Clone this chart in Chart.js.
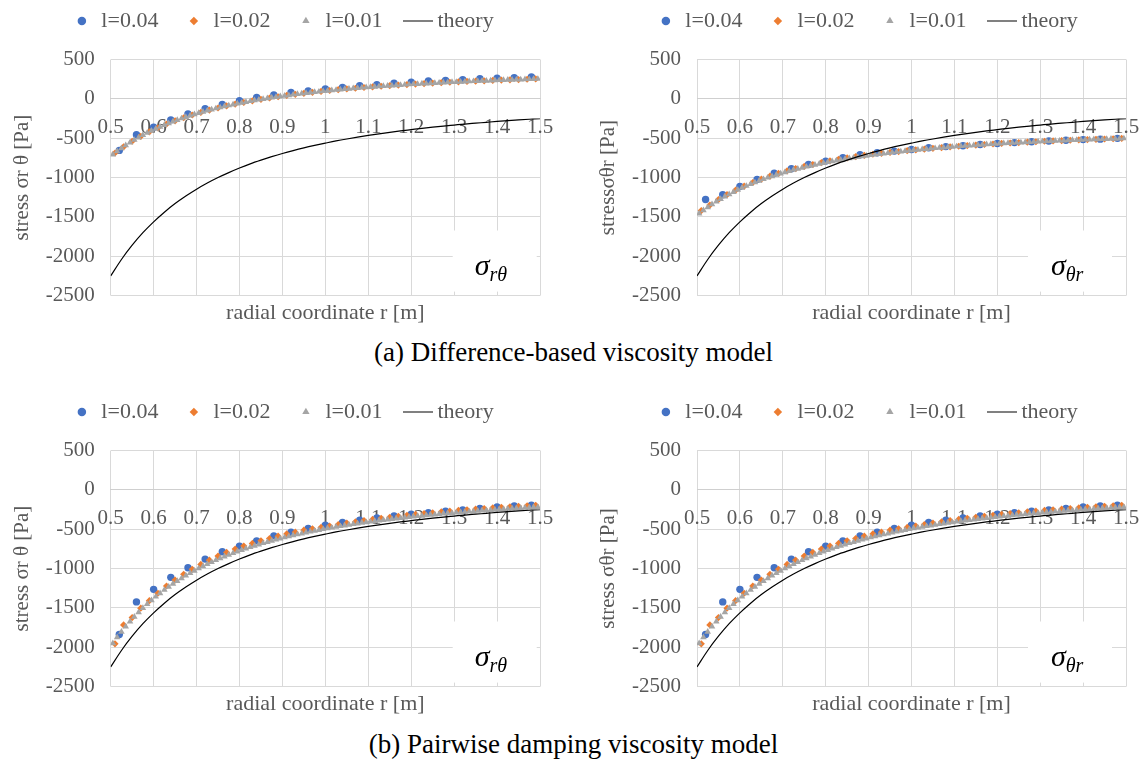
<!DOCTYPE html>
<html>
<head>
<meta charset="utf-8">
<script src="https://cdn.jsdelivr.net/npm/chart.js@4.4.1/dist/chart.umd.min.js"></script>
<style>
  body { margin: 0; width: 1147px; height: 760px; overflow: hidden; background: #fff; position: relative; }
  canvas { position: absolute; }
  .cap { position: absolute; left: 0; width: 1147px; text-align: center; font-family: "Liberation Serif", "DejaVu Serif", "Noto Serif", Tinos, Times, serif; font-size: 27px; line-height: 30px; color: #000; }
</style>
</head>
<body>
<canvas id="c1" width="571" height="345" style="left:-2px;top:-17px"></canvas>
<canvas id="c2" width="557" height="345" style="left:589px;top:-17px"></canvas>
<div class="cap" style="top:337px">(a) Difference-based viscosity model</div>
<canvas id="c3" width="571" height="345" style="left:-2px;top:374px"></canvas>
<canvas id="c4" width="557" height="345" style="left:589px;top:374px"></canvas>
<div class="cap" style="top:729px">(b) Pairwise damping viscosity model</div>

<script>
// radial positions of the samples
const r04 = [0.52, 0.56, 0.60, 0.64, 0.68, 0.72, 0.76, 0.80, 0.84, 0.88, 0.92, 0.96, 1.00,
  1.04, 1.08, 1.12, 1.16, 1.20, 1.24, 1.28, 1.32, 1.36, 1.40, 1.44, 1.48];
const r02 = [0.51, 0.53, 0.55, 0.57, 0.59, 0.61, 0.63, 0.65, 0.67, 0.69,
  0.71, 0.73, 0.75, 0.77, 0.79, 0.81, 0.83, 0.85, 0.87, 0.89,
  0.91, 0.93, 0.95, 0.97, 0.99, 1.01, 1.03, 1.05, 1.07, 1.09,
  1.11, 1.13, 1.15, 1.17, 1.19, 1.21, 1.23, 1.25, 1.27, 1.29,
  1.31, 1.33, 1.35, 1.37, 1.39, 1.41, 1.43, 1.45, 1.47, 1.49];
const r01 = [0.505, 0.515, 0.525, 0.535, 0.545, 0.555, 0.565, 0.575, 0.585, 0.595,
  0.605, 0.615, 0.625, 0.635, 0.645, 0.655, 0.665, 0.675, 0.685, 0.695,
  0.705, 0.715, 0.725, 0.735, 0.745, 0.755, 0.765, 0.775, 0.785, 0.795,
  0.805, 0.815, 0.825, 0.835, 0.845, 0.855, 0.865, 0.875, 0.885, 0.895,
  0.905, 0.915, 0.925, 0.935, 0.945, 0.955, 0.965, 0.975, 0.985, 0.995,
  1.005, 1.015, 1.025, 1.035, 1.045, 1.055, 1.065, 1.075, 1.085, 1.095,
  1.105, 1.115, 1.125, 1.135, 1.145, 1.155, 1.165, 1.175, 1.185, 1.195,
  1.205, 1.215, 1.225, 1.235, 1.245, 1.255, 1.265, 1.275, 1.285, 1.295,
  1.305, 1.315, 1.325, 1.335, 1.345, 1.355, 1.365, 1.375, 1.385, 1.395,
  1.405, 1.415, 1.425, 1.435, 1.445, 1.455, 1.465, 1.475, 1.485, 1.495];
const rTheory = [0.5, 0.525, 0.55, 0.575, 0.6, 0.625, 0.65, 0.675, 0.7, 0.725, 0.75,
  0.775, 0.8, 0.825, 0.85, 0.875, 0.9, 0.925, 0.95, 0.975, 1.0,
  1.025, 1.05, 1.075, 1.1, 1.125, 1.15, 1.175, 1.2, 1.225, 1.25,
  1.275, 1.3, 1.325, 1.35, 1.375, 1.4, 1.425, 1.45, 1.475, 1.5];

// theory curve (same in all four panels)
const theory = [-2250, -2041, -1860, -1701, -1563, -1440, -1331, -1235, -1148, -1070, -1000,
  -937, -879, -826, -779, -735, -694, -657, -623, -592, -563,
  -535, -510, -487, -465, -444, -425, -407, -391, -375, -360,
  -346, -333, -320, -309, -298, -287, -277, -268, -259, -250];

// (a) difference-based, sigma r theta
const diffRT04 = [-655, -455, -360, -267, -191, -124, -70, -23, 17, 48, 80, 101, 125,
  146, 168, 181, 199, 212, 226, 235, 243, 257, 261, 270, 279];
const diffRT02 = [-688, -610, -539, -476, -419, -368, -321, -279, -240, -205,
  -173, -143, -116, -90, -67, -45, -25, -6, 11, 27,
  43, 57, 70, 83, 94, 106, 116, 126, 135, 144,
  152, 160, 168, 175, 182, 188, 194, 200, 206, 211,
  216, 221, 225, 229, 234, 238, 242, 245, 249, 253];
const diffRT01 = [-709, -667, -628, -591, -556, -522, -491, -461, -432, -406,
  -380, -355, -332, -310, -289, -269, -249, -231, -213, -196,
  -180, -165, -150, -136, -122, -109, -96, -84, -73, -61,
  -50, -40, -30, -20, -11, -2, 7, 15, 23, 31,
  39, 46, 53, 60, 67, 73, 80, 86, 91, 97,
  103, 108, 113, 118, 123, 128, 133, 137, 142, 146,
  150, 154, 158, 162, 166, 169, 173, 176, 180, 183,
  186, 189, 193, 195, 198, 201, 204, 207, 209, 212,
  214, 217, 219, 222, 224, 226, 228, 230, 233, 235,
  237, 239, 241, 242, 244, 246, 248, 250, 252, 253];

// (a) difference-based, sigma theta r
const diffTR04 = [-1278, -1219, -1113, -1024, -944, -888, -833, -791, -748, -710, -684, -664, -643,
  -622, -607, -595, -580, -567, -556, -546, -535, -526, -518, -512, -502];
const diffTR02 = [-1420, -1350, -1280, -1217, -1161, -1109, -1063, -1021, -983, -948,
  -916, -886, -859, -834, -811, -789, -769, -751, -734, -717,
  -704, -692, -681, -670, -659, -649, -639, -629, -620, -610,
  -602, -594, -587, -580, -574, -567, -561, -555, -550, -545,
  -539, -535, -530, -526, -521, -517, -514, -510, -507, -503];
const diffTR01 = [-1458, -1417, -1378, -1341, -1306, -1273, -1242, -1212, -1184, -1157,
  -1131, -1107, -1084, -1062, -1041, -1021, -1002, -984, -966, -949,
  -933, -918, -903, -889, -876, -862, -850, -838, -826, -815,
  -804, -794, -784, -774, -765, -756, -748, -739, -731, -723,
  -716, -708, -701, -695, -688, -681, -675, -669, -664, -658,
  -652, -647, -642, -637, -632, -627, -623, -618, -613, -609,
  -605, -601, -597, -593, -590, -586, -583, -579, -576, -573,
  -569, -566, -563, -560, -557, -555, -552, -549, -547, -544,
  -541, -539, -537, -534, -532, -530, -528, -525, -523, -521,
  -519, -517, -515, -514, -512, -510, -508, -507, -505, -503];

// (b) pairwise damping (both components read the same)
const pair04 = [-1838, -1424, -1264, -1112, -990, -880, -787, -715, -648, -585, -538, -491, -450,
  -415, -386, -357, -332, -310, -289, -272, -256, -236, -218, -206, -194];
const pair02 = [-1956, -1716, -1623, -1504, -1408, -1314, -1222, -1146, -1074, -1010,
  -947, -893, -842, -795, -753, -715, -681, -648, -618, -589,
  -560, -538, -513, -494, -478, -460, -441, -424, -407, -391,
  -376, -362, -349, -336, -324, -312, -301, -291, -281, -271,
  -262, -254, -245, -237, -230, -222, -216, -209, -202, -196];
const pair01 = [-1950, -1874, -1804, -1737, -1674, -1614, -1557, -1503, -1452, -1404,
  -1358, -1314, -1272, -1232, -1194, -1158, -1123, -1090, -1058, -1028,
  -999, -971, -944, -919, -894, -870, -848, -826, -805, -785,
  -765, -747, -729, -711, -695, -678, -663, -647, -633, -619,
  -605, -592, -579, -567, -555, -543, -532, -521, -510, -500,
  -490, -481, -471, -462, -453, -444, -436, -428, -420, -412,
  -405, -397, -390, -383, -377, -371, -364, -358, -352, -346,
  -340, -334, -329, -324, -318, -313, -308, -303, -299, -294,
  -289, -285, -281, -276, -272, -268, -264, -260, -256, -253,
  -249, -246, -242, -239, -236, -232, -229, -226, -223, -220];

const xTickLabels = ['0.5', '0.6', '0.7', '0.8', '0.9', '1', '1.1', '1.2', '1.3', '1.4', '1.5'];
const yTickLabels = ['-2500', '-2000', '-1500', '-1000', '-500', '0', '500'];
const legendLabels = ['l=0.04', 'l=0.02', 'l=0.01', 'theory'];
const colors = ['#4472C4', '#ED7D31', '#A5A5A5', '#000000'];

const serif = '"Liberation Serif", "DejaVu Serif", "Noto Serif", Tinos, Times, serif';
Chart.defaults.font.family = serif;

// short black line used as the legend symbol of the theory curve
const lineImg = document.createElement('canvas');
lineImg.width = 30;
lineImg.height = 3;
lineImg.getContext('2d').fillRect(0, 1, 30, 1);
const legendStyles = ['circle', 'rectRot', 'triangle', lineImg];

function pts(xs, ys) {
  return xs.map((x, i) => ({ x: x, y: ys[i] }));
}

// white box with the stress component symbol
const sigmaLabel = {
  id: 'sigmaLabel',
  afterDraw(chart, args, o) {
    const { ctx, chartArea: a } = chart;
    ctx.save();
    ctx.fillStyle = '#fff';
    ctx.fillRect(a.left + o.boxX, a.top + 171, 84, a.bottom - 4 - (a.top + 171));
    ctx.fillStyle = '#000';
    ctx.textBaseline = 'alphabetic';
    ctx.font = 'italic 30px ' + serif;
    ctx.fillText('σ', a.left + o.x, a.bottom - 21);
    const w = ctx.measureText('σ').width;
    ctx.font = 'italic 20px ' + serif;
    ctx.fillText(o.sub, a.left + o.x + w, a.bottom - 15);
    ctx.restore();
  }
};

function makeChart(id, p) {
  return new Chart(document.getElementById(id), {
    type: 'scatter',
    data: {
      datasets: [
        { label: legendLabels[3], data: pts(rTheory, theory), showLine: true, borderColor: '#000', borderWidth: 1.2, pointRadius: 0, cubicInterpolationMode: 'monotone', order: 0 },
        { label: legendLabels[2], data: pts(r01, p.s01), pointStyle: 'triangle', pointRadius: 3.8, backgroundColor: colors[2], borderWidth: 0, order: 1 },
        { label: legendLabels[1], data: pts(r02, p.s02), pointStyle: 'rectRot', pointRadius: 3.6, backgroundColor: colors[1], borderWidth: 0, order: 2 },
        { label: legendLabels[0], data: pts(r04, p.s04), pointStyle: 'circle', pointRadius: 3.7, backgroundColor: colors[0], borderWidth: 0, order: 3 }
      ]
    },
    options: {
      responsive: false,
      animation: false,
      events: [],
      plugins: {
        legend: {
          position: 'top',
          labels: {
            usePointStyle: true,
            boxWidth: 17,
            boxHeight: 6,
            padding: 27,
            color: '#595959',
            font: { size: 22 },
            generateLabels: () => legendLabels.map((text, i) => ({
              text: text,
              fillStyle: colors[i],
              strokeStyle: colors[i],
              lineWidth: 0,
              pointStyle: legendStyles[i],
              fontColor: '#595959',
              hidden: false,
              datasetIndex: 3 - i
            }))
          }
        },
        // x axis title sits under the plot, the axis itself crosses at y = 0
        title: {
          display: true,
          position: 'bottom',
          fullSize: false,
          text: 'radial coordinate r [m]',
          color: '#595959',
          font: { size: 22, weight: 'normal' },
          padding: { top: 4, bottom: 2 }
        },
        tooltip: { enabled: false },
        sigmaLabel: { boxX: p.boxX, x: p.sigX, sub: p.sub }
      },
      scales: {
        x: {
          type: 'linear',
          position: { y: 0 },
          min: 0.5,
          max: 1.5,
          grid: { color: '#d9d9d9', drawTicks: false },
          border: { display: true, color: '#cfcfcf' },
          ticks: {
            stepSize: 0.1,
            autoSkip: false,
            maxRotation: 0,
            padding: 16,
            color: '#595959',
            font: { size: 21 },
            callback: (v, i) => xTickLabels[i]
          },
          afterFit: s => { s.paddingLeft = 0; s.paddingRight = p.right; }
        },
        // empty top axis, only keeps the gap between legend and plot
        gap: {
          type: 'linear',
          position: 'top',
          min: 0,
          max: 1,
          grid: { display: false, drawTicks: false },
          border: { display: false },
          ticks: { display: false },
          afterFit: s => { s.height = 17.5; }
        },
        y: {
          type: 'linear',
          position: 'left',
          min: -2500,
          max: 500,
          grid: { color: '#d9d9d9', drawTicks: false },
          border: { display: false },
          ticks: {
            stepSize: 500,
            autoSkip: false,
            padding: 16,
            color: '#595959',
            font: { size: 21 },
            callback: (v, i) => yTickLabels[i]
          },
          title: {
            display: true,
            text: p.yTitle,
            color: '#595959',
            font: { size: 21 },
            padding: { top: p.titlePad, bottom: 0 }
          },
          afterFit: s => { s.width = p.yWidth; s.paddingBottom = 0; }
        }
      }
    },
    plugins: [sigmaLabel]
  });
}

makeChart('c1', { s04: diffRT04, s02: diffRT02, s01: diffRT01, yTitle: 'stress σr θ [Pa]', sub: 'rθ',
  yWidth: 112.7, right: 29, titlePad: 11.9, boxX: 342, sigX: 364 });
makeChart('c2', { s04: diffTR04, s02: diffTR02, s01: diffTR01, yTitle: 'stressσθr [Pa]', sub: 'θr',
  yWidth: 108, right: 20, titlePad: 7.3, boxX: 331, sigX: 354 });
makeChart('c3', { s04: pair04, s02: pair02, s01: pair01, yTitle: 'stress σr θ [Pa]', sub: 'rθ',
  yWidth: 112.7, right: 29, titlePad: 11.9, boxX: 342, sigX: 364 });
makeChart('c4', { s04: pair04, s02: pair02, s01: pair01, yTitle: 'stress σθr [Pa]', sub: 'θr',
  yWidth: 108, right: 20, titlePad: 7.3, boxX: 331, sigX: 354 });
</script>
</body>
</html>
